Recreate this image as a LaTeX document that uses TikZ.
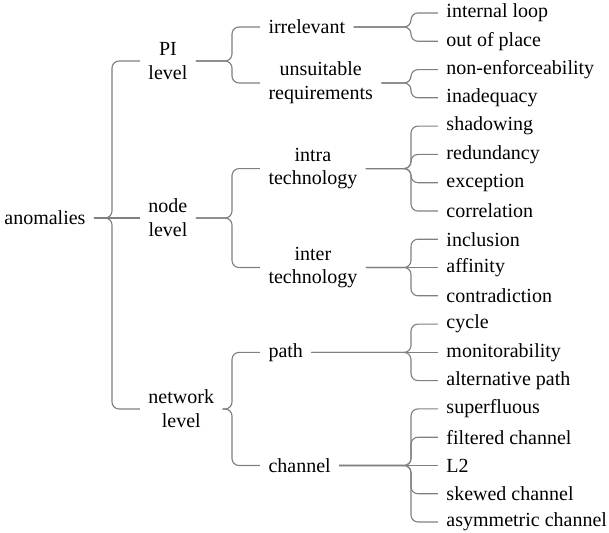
\documentclass[tikz,border=0pt]{standalone}
\usepackage{fontspec}
\setmainfont{LiberationSerif}[Extension=.ttf, UprightFont=*-Regular, BoldFont=*-Bold, ItalicFont=*-Italic, BoldItalicFont=*-BoldItalic]
\begin{document}
\begin{tikzpicture}[x=0.4pt,y=-0.4pt,
  lbl/.style={font=\fontsize{8}{9.5}\selectfont, inner xsep=3.2pt, inner ysep=1pt, align=center},
  conn/.style={draw=black!50, line width=0.45pt, rounded corners=2.8pt}]
\useasboundingbox (0,0) rectangle (609,533);
% brace columns
\coordinate (b1) at (112,0);
\coordinate (b2) at (232,0);
\coordinate (b3) at (411,0);
% root
\node[lbl, anchor=east] (root) at (94,218) {anomalies};
% level 1
\node[lbl, anchor=west] (pi) at (140,61) {PI\\level};
\node[lbl, anchor=west] (nd) at (140,218) {node\\level};
\node[lbl, anchor=west] (nw) at (140,409) {network\\level};
% level 2
\node[lbl, anchor=west] (irr) at (260,27) {irrelevant};
\node[lbl, anchor=west] (uns) at (260,83) {unsuitable\\requirements};
\node[lbl, anchor=west] (intra) at (260,168.6) {intra\\technology};
\node[lbl, anchor=west] (inter) at (260,267.5) {inter\\technology};
\node[lbl, anchor=west] (path) at (260,352.4) {path};
\node[lbl, anchor=west] (chan) at (260,465.5) {channel};
% leaves
\node[lbl, anchor=west] (l1) at (438,13.0) {internal loop};
\node[lbl, anchor=west] (l2) at (438,41.3) {out of place};
\node[lbl, anchor=west] (l3) at (438,69.6) {non-enforceability};
\node[lbl, anchor=west] (l4) at (438,97.8) {inadequacy};
\node[lbl, anchor=west] (l5) at (438,126.1) {shadowing};
\node[lbl, anchor=west] (l6) at (438,154.4) {redundancy};
\node[lbl, anchor=west] (l7) at (438,182.7) {exception};
\node[lbl, anchor=west] (l8) at (438,211.0) {correlation};
\node[lbl, anchor=west] (l9) at (438,239.2) {inclusion};
\node[lbl, anchor=west] (l10) at (438,267.5) {affinity};
\node[lbl, anchor=west] (l11) at (438,295.8) {contradiction};
\node[lbl, anchor=west] (l12) at (438,324.1) {cycle};
\node[lbl, anchor=west] (l13) at (438,352.4) {monitorability};
\node[lbl, anchor=west] (l14) at (438,380.6) {alternative path};
\node[lbl, anchor=west] (l15) at (438,408.9) {superfluous};
\node[lbl, anchor=west] (l16) at (438,437.2) {filtered channel};
\node[lbl, anchor=west] (l17) at (438,465.5) {L2};
\node[lbl, anchor=west] (l18) at (438,493.8) {skewed channel};
\node[lbl, anchor=west] (l19) at (438,522.0) {asymmetric channel};
% connectors
\newcommand\brc[3]{\draw[conn] (#1.east) -- (#1.east -| #2) |- (#3.west);}
\newcommand\strt[2]{\draw[conn] (#1.east) -- (#2.west);}
\brc{root}{b1}{pi} \strt{root}{nd} \brc{root}{b1}{nw}
\brc{pi}{b2}{irr} \brc{pi}{b2}{uns}
\brc{nd}{b2}{intra} \brc{nd}{b2}{inter}
\brc{nw}{b2}{path} \brc{nw}{b2}{chan}
\brc{irr}{b3}{l1} \brc{irr}{b3}{l2}
\brc{uns}{b3}{l3} \brc{uns}{b3}{l4}
\brc{intra}{b3}{l5} \brc{intra}{b3}{l6} \brc{intra}{b3}{l7} \brc{intra}{b3}{l8}
\brc{inter}{b3}{l9} \strt{inter}{l10} \brc{inter}{b3}{l11}
\brc{path}{b3}{l12} \strt{path}{l13} \brc{path}{b3}{l14}
\brc{chan}{b3}{l15} \brc{chan}{b3}{l16} \strt{chan}{l17} \brc{chan}{b3}{l18} \brc{chan}{b3}{l19}
\end{tikzpicture}
\end{document}
